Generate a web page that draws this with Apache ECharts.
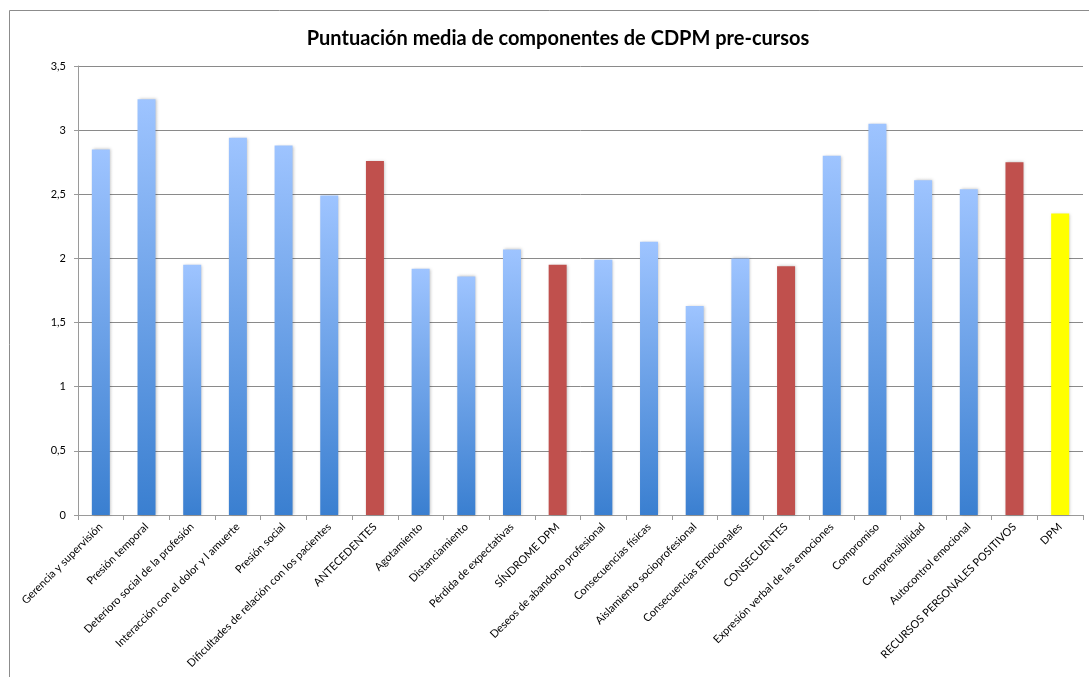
<!DOCTYPE html>
<html>
<head>
<meta charset="utf-8">
<script src="https://cdn.jsdelivr.net/npm/echarts@6/dist/echarts.min.js"></script>
<style>
  html, body { margin: 0; padding: 0; background: #ffffff; }
  #chart { width: 1089px; height: 677px; }
</style>
</head>
<body>
<div id="chart"></div>
<script>
// Components of the CDPM questionnaire, in questionnaire order
const categories = [
  'Gerencia y supervisión',
  'Presión temporal',
  'Deterioro social de la profesión',
  'Interacción con el dolor y l amuerte',
  'Presión social',
  'Dificultades de relación con los pacientes',
  'ANTECEDENTES',
  'Agotamiento',
  'Distanciamiento',
  'Pérdida de expectativas',
  'SÍNDROME DPM',
  'Deseos de abandono profesional',
  'Consecuencias físicas',
  'Aislamiento socioprofesional',
  'Consecuencias Emocionales',
  'CONSECUENTES',
  'Expresión verbal de las emociones',
  'Compromiso',
  'Comprensibilidad',
  'Autocontrol emocional',
  'RECURSOS PERSONALES POSITIVOS',
  'DPM'
];

// Mean score per component (pre-course)
const meanScores = [
  2.85, 3.24, 1.95, 2.94, 2.88, 2.49, 2.76,
  1.92, 1.86, 2.07, 1.95,
  1.99, 2.13, 1.63, 2.00, 1.94,
  2.80, 3.05, 2.61, 2.54, 2.75,
  2.35
];

// Row type: item = single component, block = block total, global = overall score
const rowTypes = [
  'item', 'item', 'item', 'item', 'item', 'item', 'block',
  'item', 'item', 'item', 'block',
  'item', 'item', 'item', 'item', 'block',
  'item', 'item', 'item', 'item', 'block',
  'global'
];

// Value axis ticks
const yTicks = [0, 0.5, 1, 1.5, 2, 2.5, 3, 3.5];

const title = 'Puntuación media de componentes de CDPM pre-cursos';

const blueFill = new echarts.graphic.LinearGradient(0, 0, 0, 1, [
  { offset: 0, color: '#9ec4ff' },
  { offset: 1, color: '#3a7fd0' }
]);
const typeColor = { item: blueFill, block: '#c0504d', global: '#ffff00' };

const chart = echarts.init(document.getElementById('chart'), null, { renderer: 'canvas' });

const font = 'Lato, "Liberation Sans", sans-serif';

chart.setOption({
  backgroundColor: '#ffffff',
  animation: false,
  title: {
    text: title,
    left: 553,
    textAlign: 'center',
    top: 24,
    textStyle: {
      fontFamily: font,
      fontWeight: 'bold',
      fontSize: 20,
      color: '#000000'
    }
  },
  graphic: [{
    type: 'rect',
    shape: { x: 9.5, y: 10.5, width: 1200, height: 1000 },
    style: { fill: 'none', stroke: '#8c8c8c', lineWidth: 1 },
    silent: true,
    z: -1
  }],
  grid: { left: 78, right: 6, top: 66, bottom: 162, containLabel: false },
  xAxis: {
    type: 'category',
    data: categories,
    axisLine: { show: true, lineStyle: { color: '#9a9a9a', width: 1 } },
    axisTick: { show: true, alignWithLabel: false, length: 5, lineStyle: { color: '#9a9a9a' } },
    axisLabel: {
      interval: 0,
      rotate: 45,
      margin: 10,
      fontFamily: font,
      fontSize: 11,
      color: '#000000'
    },
    splitLine: { show: false }
  },
  yAxis: {
    type: 'value',
    min: yTicks[0],
    max: yTicks[yTicks.length - 1],
    interval: yTicks[1] - yTicks[0],
    axisLine: { show: true, lineStyle: { color: '#9a9a9a', width: 1 } },
    axisTick: { show: true, inside: false, length: 4, lineStyle: { color: '#9a9a9a' } },
    axisLabel: {
      margin: 12,
      fontFamily: font,
      fontSize: 11,
      color: '#000000',
      formatter: v => String(v).replace('.', ',')
    },
    splitLine: { show: true, lineStyle: { color: '#8a8a8a', width: 1 } }
  },
  series: [{
    type: 'bar',
    barWidth: 18,
    data: meanScores.map((v, i) => ({
      value: v,
      itemStyle: { color: typeColor[rowTypes[i]] }
    })),
    itemStyle: {
      shadowBlur: 3,
      shadowColor: 'rgba(0,0,0,0.25)',
      shadowOffsetX: 1,
      shadowOffsetY: 0
    }
  }]
});
</script>
</body>
</html>
